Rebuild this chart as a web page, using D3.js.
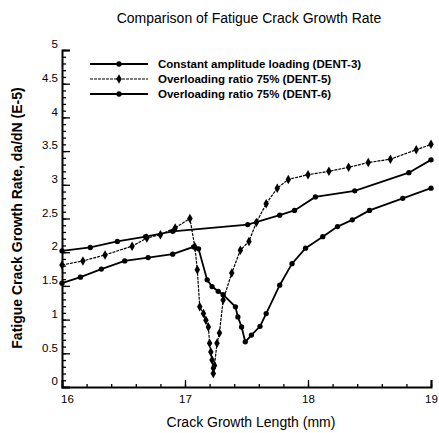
<!DOCTYPE html>
<html><head><meta charset="utf-8">
<script src="https://cdn.jsdelivr.net/npm/d3@7"></script>
<style>body{margin:0;background:#fff}svg{display:block}text{font-family:"Liberation Sans",Arial,sans-serif;fill:#000}</style>
</head><body>
<script>
const chartTitle = "Comparison of Fatigue Crack Growth Rate";
const xTitle = "Crack Growth Length (mm)";
const yTitle = "Fatigue Crack Growth Rate, da/dN (E-5)";
const seriesNames = ["Constant amplitude loading (DENT-3)", "Overloading ratio 75% (DENT-5)", "Overloading ratio 75% (DENT-6)"];
const xTicks = [16, 17, 18, 19];
const yTicks = [0, 0.5, 1, 1.5, 2, 2.5, 3, 3.5, 4, 4.5, 5];

const dent3 = [[16.0,2.02],[16.23,2.07],[16.45,2.16],[16.68,2.23],[16.9,2.31],[17.51,2.41],[17.77,2.55],[17.89,2.62],[18.06,2.82],[18.38,2.91],[18.82,3.18],[19.0,3.37]];
const dent5 = [[16.0,1.81],[16.17,1.87],[16.35,1.96],[16.57,2.09],[16.69,2.21],[16.8,2.26],[16.92,2.36],[17.04,2.50],[17.08,2.08],[17.1,1.74],[17.12,1.19],[17.15,1.09],[17.17,0.99],[17.19,0.89],[17.2,0.65],[17.21,0.52],[17.22,0.40],[17.23,0.28],[17.23,0.2],[17.24,0.32],[17.26,0.65],[17.28,0.8],[17.31,1.29],[17.38,1.69],[17.45,2.03],[17.52,2.16],[17.58,2.44],[17.66,2.72],[17.75,2.95],[17.84,3.08],[18.0,3.15],[18.17,3.20],[18.33,3.26],[18.49,3.33],[18.67,3.38],[18.88,3.52],[19.0,3.60]];
const dent6 = [[16.0,1.54],[16.15,1.63],[16.32,1.75],[16.51,1.87],[16.7,1.92],[16.9,1.97],[17.07,2.08],[17.11,2.05],[17.18,1.59],[17.22,1.49],[17.27,1.42],[17.31,1.37],[17.41,1.19],[17.43,1.04],[17.46,0.89],[17.49,0.67],[17.54,0.77],[17.61,0.9],[17.66,1.09],[17.77,1.51],[17.87,1.83],[17.98,2.06],[18.12,2.23],[18.24,2.38],[18.36,2.48],[18.5,2.62],[18.77,2.80],[19.0,2.95]];

const W = 439, H = 433;
const m = {left: 62, right: 8, top: 50, bottom: 46};
const svg = d3.select("body").append("svg").attr("width", W).attr("height", H);
const x = d3.scaleLinear().domain([16, 19]).range([m.left, W - m.right]);
const y = d3.scaleLinear().domain([0, 5]).range([H - m.bottom, m.top]);

// axes
const xMinor = d3.range(16, 19.0001, 0.2);
const yMinor = d3.range(0, 5.0001, 0.1);
const gx = svg.append("g").attr("transform", `translate(0,${y(0)})`);
gx.call(d3.axisBottom(x).tickValues(xMinor).tickSize(-3).tickFormat(""));
gx.call(g => g.select(".domain").remove());
const gx2 = svg.append("g").attr("transform", `translate(0,${y(0)})`);
gx2.call(d3.axisBottom(x).tickValues(xTicks).tickSize(-7).tickPadding(10).tickFormat(d3.format("d")));
gx2.selectAll(".domain").attr("stroke-width", 2);
gx2.selectAll("text").attr("font-size", 11.5).attr("dy", "0.5em");
gx2.selectAll(".tick").filter(d => d === 16).select("text").attr("dx", 5);

const gy = svg.append("g").attr("transform", `translate(${x(16)},0)`);
gy.call(d3.axisLeft(y).tickValues(yMinor).tickSize(-4).tickFormat(""));
gy.call(g => g.select(".domain").remove());
const gy2 = svg.append("g").attr("transform", `translate(${x(16)},0)`);
gy2.call(d3.axisLeft(y).tickValues(yTicks).tickSize(-8).tickPadding(4).tickFormat(d => d3.format("")(d)));
gy2.selectAll(".domain").attr("stroke-width", 2);
gy2.selectAll("text").attr("font-size", 11.5).attr("dy", "-0.2em");
svg.selectAll(".tick line").attr("stroke", "#000").attr("stroke-width", 1.3);
svg.selectAll(".domain").attr("stroke", "#000");

// series
const line = d3.line().x(d => x(d[0])).y(d => y(d[1]));
const styles = [
  {data: dent3, w: 1.8, dash: null, shape: "circle"},
  {data: dent5, w: 1.2, dash: "3,1", shape: "diamond"},
  {data: dent6, w: 1.8, dash: null, shape: "circle"}
];
const sym = {circle: d3.symbol().type(d3.symbolCircle).size(22), diamond: d3.symbol().type(d3.symbolDiamond).size(26)};
styles.forEach(s => {
  svg.append("path").datum(s.data).attr("d", line).attr("fill", "none")
    .attr("stroke", "#000").attr("stroke-width", s.w).attr("stroke-dasharray", s.dash);
  svg.append("g").selectAll("path").data(s.data).join("path")
    .attr("d", sym[s.shape]).attr("transform", d => `translate(${x(d[0])},${y(d[1])})`).attr("fill", "#000");
});

// legend
const lg = svg.append("g");
seriesNames.forEach((n, i) => {
  const ly = 64 + i * 15;
  const s = styles[i];
  lg.append("line").attr("x1", 90).attr("x2", 148).attr("y1", ly).attr("y2", ly)
    .attr("stroke", "#000").attr("stroke-width", s.w).attr("stroke-dasharray", s.dash);
  lg.append("path").attr("d", sym[s.shape]).attr("transform", `translate(119,${ly})`);
  lg.append("text").attr("x", 158).attr("y", ly).attr("dy", "0.35em").attr("font-size", 11.5).attr("font-weight", "bold").text(n);
});

// titles
svg.append("text").attr("x", 249).attr("y", 18).attr("dy", "0.35em").attr("text-anchor", "middle").attr("font-size", 14).text(chartTitle);
svg.append("text").attr("x", 251).attr("y", 422).attr("dy", "0.35em").attr("text-anchor", "middle").attr("font-size", 14).text(xTitle);
svg.append("text").attr("transform", `translate(17,218) rotate(-90)`).attr("dy", "0.35em").attr("text-anchor", "middle").attr("font-size", 14).attr("font-weight", "bold").text(yTitle);
</script>
</body></html>
